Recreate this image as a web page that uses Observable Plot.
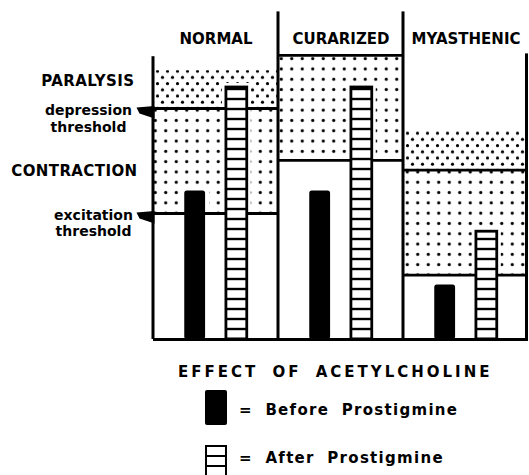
<!DOCTYPE html>
<html><head><meta charset="utf-8">
<script src="https://cdn.jsdelivr.net/npm/d3@7"></script>
<script src="https://cdn.jsdelivr.net/npm/@observablehq/plot@0.6"></script>
<style>
body{margin:0;background:#fff;}
#wrap{position:relative;width:529px;height:475px;overflow:hidden;font-family:"DejaVu Sans",sans-serif;font-weight:bold;color:#000;background:#fff;}
#wrap svg{position:absolute;left:0;top:0;}
.abs{position:absolute;white-space:nowrap;}
</style></head><body><div id="wrap"></div>
<script>
// ---- data (arbitrary level units, 0 = baseline) ----
const panels = ["NORMAL", "CURARIZED", "MYASTHENIC"];
const paralysisTop = [96, 101.5, 74.5];
const depressionThreshold = [82.5, 101.5, 60.5];
const excitationThreshold = [45, 64, 23];
const beforeProstigmine = [53, 53, 19.5];
const afterProstigmine = [90, 90, 38.5];
const panelEdgeTop = [101, 117, 117];
const rightEdgeTop = 102;
const seriesKeys = ["Before", "After"];
const seriesLabels = ["Before Prostigmine", "After Prostigmine"];
const leftLabels = ["PARALYSIS", "depression\nthreshold", "CONTRACTION", "excitation\nthreshold"];
const chartTitle = "EFFECT OF ACETYLCHOLINE";

// ---- tables built from the arrays ----
const zones = panels.flatMap((p, i) => [
  {panel: p, zone: "paralysis", y1: depressionThreshold[i], y2: paralysisTop[i]},
  {panel: p, zone: "contraction", y1: excitationThreshold[i], y2: depressionThreshold[i]}
]);
const thresholds = panels.flatMap((p, i) => [
  {panel: p, value: excitationThreshold[i]},
  {panel: p, value: depressionThreshold[i]}
]);
const bars = panels.flatMap((p, i) => [
  {panel: p, series: "Before", value: beforeProstigmine[i]},
  {panel: p, series: "After", value: afterProstigmine[i]}
]);
const edges = panels.map((p, i) => ({panel: p, top: panelEdgeTop[i]}));

const W = 529, H = 350, ML = 153, MR = 1, MT = 3, MB = 11;
const fw = (W - ML - MR) / panels.length;
const inner = d3.scaleBand().domain(seriesKeys).range([0, fw]).paddingInner(0.5).paddingOuter(0.75);
const insetsFor = s => ({insetLeft: inner(s), insetRight: fw - inner(s) - inner.bandwidth()});
const halo = s => ({insetLeft: inner(s) - 4, insetRight: fw - inner(s) - inner.bandwidth() - 4, insetTop: -4});
const txt = {fontFamily: "DejaVu Sans", fontWeight: "bold", fill: "black"};

const plot = Plot.plot({
  width: W, height: H,
  marginLeft: ML, marginRight: MR, marginTop: MT, marginBottom: MB,
  x: {domain: panels, padding: 0, axis: null},
  y: {domain: [0, 120], axis: null},
  style: {background: "white"},
  marks: [
    Plot.rectY(zones.filter(d => d.zone === "paralysis"), {x: "panel", y1: "y1", y2: "y2", fill: "url(#dense)"}),
    Plot.rectY(zones.filter(d => d.zone === "contraction"), {x: "panel", y1: "y1", y2: "y2", fill: "url(#sparse)"}),
    ...seriesKeys.map(s => Plot.barY(bars.filter(d => d.series === s), {x: "panel", y: "value", fill: "white", ...halo(s)})),
    Plot.tickY(thresholds, {x: "panel", y: "value", stroke: "black", strokeWidth: 2.8}),
    Plot.barY(edges, {x: "panel", y: "top", fill: "black", insetLeft: -1.5, insetRight: fw - 1.5}),
    Plot.barY([{panel: panels[panels.length - 1], top: rightEdgeTop}], {x: "panel", y: "top", fill: "black", insetLeft: fw - 3, insetRight: 0}),
    Plot.ruleY([0], {stroke: "black", strokeWidth: 3}),
    Plot.barY(bars.filter(d => d.series === "Before"), {x: "panel", y: "value", fill: "black", rx: 2.5, ...insetsFor("Before")}),
    Plot.barY(bars.filter(d => d.series === "After"), {x: "panel", y: "value", fill: "url(#stripes)", stroke: "black", strokeWidth: 2.8, ...insetsFor("After")}),
    Plot.text(panels, {x: d => d, text: d => d, frameAnchor: "top", dy: 30, fontSize: 15, ariaLabel: "panel-labels", ...txt}),
    Plot.text([leftLabels[0]], {y: () => paralysisTop[0], text: d => d, frameAnchor: "left", textAnchor: "end", dx: -19, dy: 10, fontSize: 15, ...txt}),
    Plot.text([leftLabels[1]], {y: () => depressionThreshold[0], text: d => d, frameAnchor: "left", textAnchor: "middle", dx: -65, dy: -5, lineAnchor: "top", lineHeight: 1.2, fontSize: 14, ...txt}),
    Plot.text([leftLabels[2]], {y: () => (depressionThreshold[0] + excitationThreshold[0]) / 2, text: d => d, frameAnchor: "left", textAnchor: "end", dx: -16, dy: 10, fontSize: 15, ...txt}),
    Plot.text([leftLabels[3]], {y: () => excitationThreshold[0], text: d => d, frameAnchor: "left", textAnchor: "middle", dx: -60, dy: -4, lineAnchor: "top", lineHeight: 1.1, fontSize: 14, ...txt}),
    Plot.dot([depressionThreshold[0], excitationThreshold[0]], {
      y: d => d, frameAnchor: "left", r: 5, fill: "black", stroke: "none",
      symbol: {draw(ctx) { ctx.moveTo(-17, -1); ctx.lineTo(1, -2.5); ctx.lineTo(1, 10); ctx.lineTo(-14, 5); ctx.closePath(); }}
    })
  ]
});

// patterns
const defs = d3.select(plot).insert("defs", ":first-child");
const dense = defs.append("pattern").attr("id", "dense").attr("patternUnits", "userSpaceOnUse").attr("width", 10).attr("height", 12.4);
dense.append("rect").attr("width", 10).attr("height", 12.4).attr("fill", "white");
dense.append("circle").attr("cx", 2.5).attr("cy", 3).attr("r", 1.6).attr("fill", "black");
dense.append("circle").attr("cx", 7.5).attr("cy", 9.2).attr("r", 1.6).attr("fill", "black");
const sparse = defs.append("pattern").attr("id", "sparse").attr("patternUnits", "userSpaceOnUse").attr("width", 10.5).attr("height", 10.3).attr("x", 3).attr("y", 2);
sparse.append("rect").attr("width", 10.5).attr("height", 10.3).attr("fill", "white");
sparse.append("circle").attr("cx", 5.25).attr("cy", 5.15).attr("r", 1.6).attr("fill", "black");
const stripes = defs.append("pattern").attr("id", "stripes").attr("patternUnits", "userSpaceOnUse").attr("width", 10).attr("height", 10).attr("y", 4);
stripes.append("rect").attr("width", 10).attr("height", 10).attr("fill", "white");
stripes.append("rect").attr("y", 3.8).attr("width", 10).attr("height", 2.4).attr("fill", "black");

d3.select(plot).selectAll('[aria-label="panel-labels"] text').style("letter-spacing", "1.2px");
d3.select(plot).selectAll("text").filter(function() { return /PARALYSIS|CONTRACTION/.test(this.textContent); }).style("letter-spacing", "0.4px");

const wrap = document.getElementById("wrap");
wrap.appendChild(plot);

// title + legend below the chart
const t = document.createElement("div");
t.className = "abs";
t.textContent = chartTitle;
Object.assign(t.style, {left: "178px", top: "362px", fontSize: "15px", letterSpacing: "3px", wordSpacing: "6px", lineHeight: "20px"});
wrap.appendChild(t);

seriesLabels.forEach((label, i) => {
  const top = i === 0 ? 390 : 445;
  const sw = document.createElement("div");
  sw.className = "abs";
  if (i === 0) {
    Object.assign(sw.style, {left: "205px", top: top + "px", width: "22px", height: "35px", background: "black", borderRadius: "2px"});
  } else {
    Object.assign(sw.style, {left: "205px", top: top + "px", width: "18px", height: "40px", border: "2.5px solid black",
      background: "repeating-linear-gradient(to bottom, white 0px, white 7.5px, black 7.5px, black 10px)"});
  }
  wrap.appendChild(sw);
  const lt = document.createElement("div");
  lt.className = "abs";
  lt.textContent = "= " + label;
  Object.assign(lt.style, {left: "239px", top: (i === 0 ? 400 : 448) + "px", fontSize: "15px", letterSpacing: "1.3px", wordSpacing: "6px", lineHeight: "20px"});
  wrap.appendChild(lt);
});
</script></body></html>
